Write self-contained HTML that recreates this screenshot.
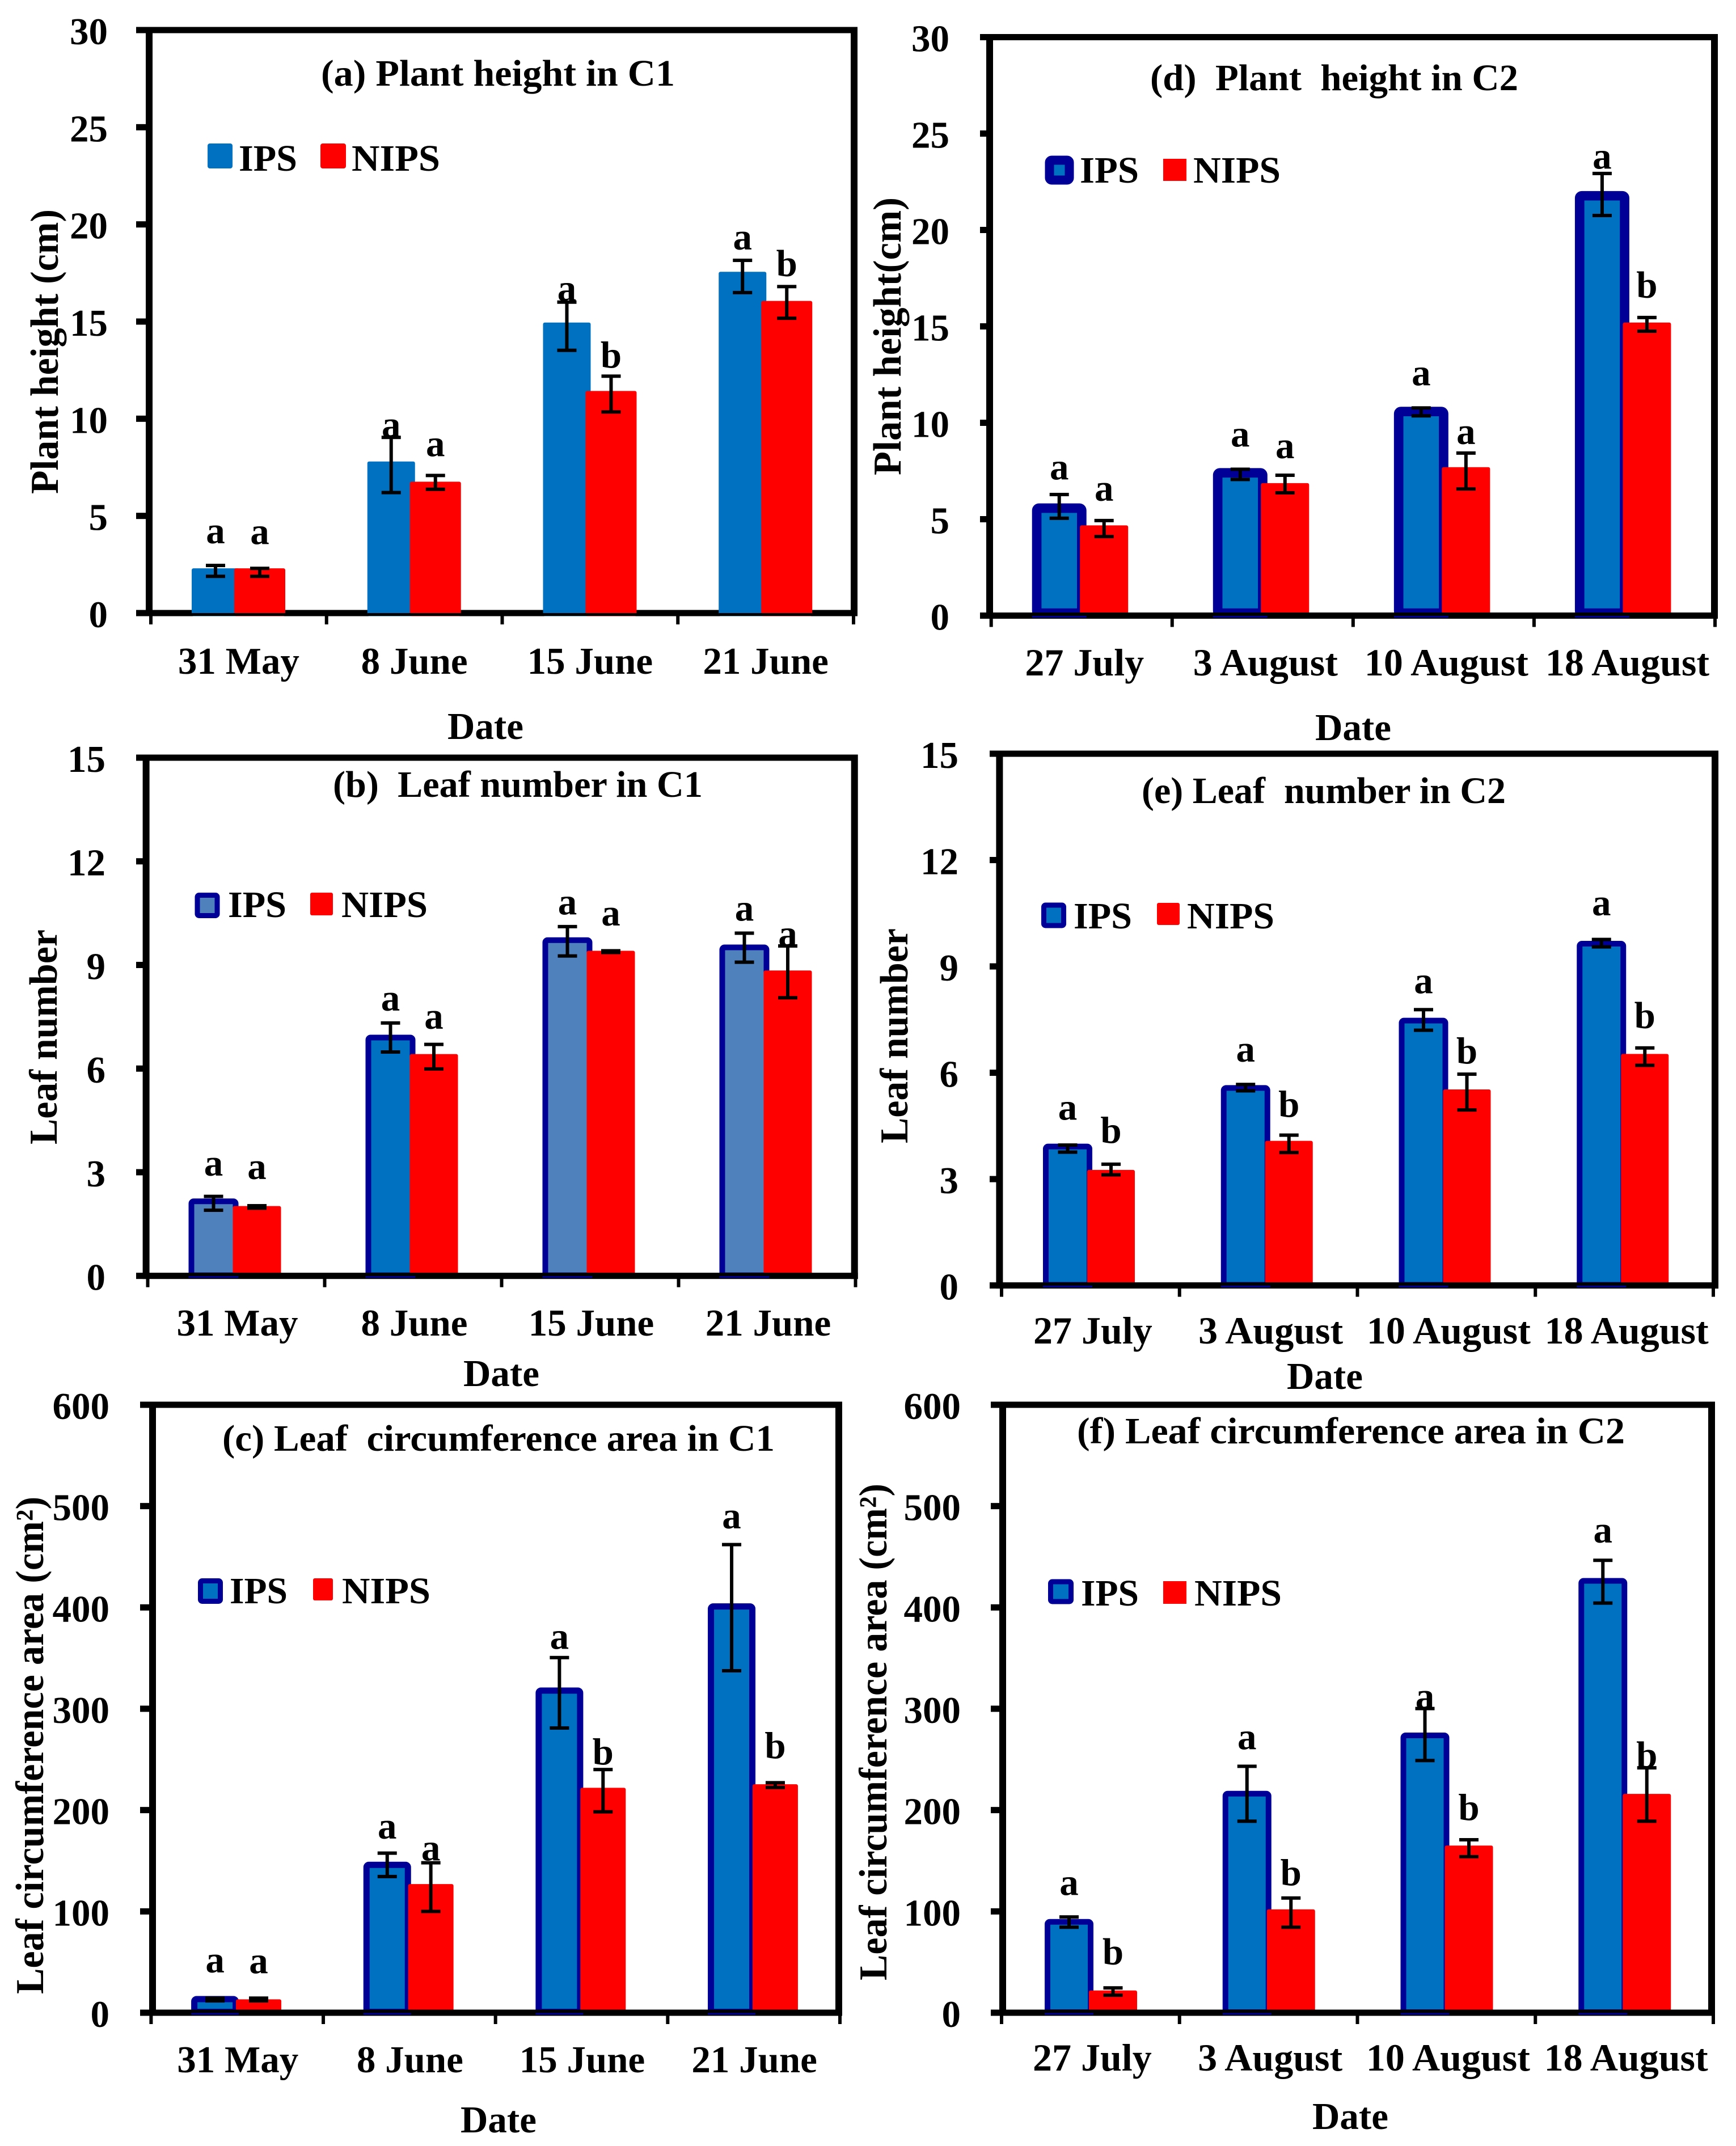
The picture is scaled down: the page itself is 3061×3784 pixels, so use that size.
<!DOCTYPE html>
<html lang="en">
<head>
<meta charset="utf-8">
<title>Plant height, leaf number and leaf circumference area in C1 and C2</title>
<style>
html,body{margin:0;padding:0;background:#fff}
svg{display:block}
text{font-family:"Liberation Serif",serif;font-weight:bold;fill:#000}
.t{font-size:66px}
.lg{font-size:66px}
.yt{font-size:70px}
.dt{font-size:67px}
</style>
</head>
<body>
<svg id="figure" xmlns="http://www.w3.org/2000/svg" width="3061" height="3784" viewBox="0 0 3061 3784">
<rect width="3061" height="3784" fill="#fff"/>

<g id="panel-a"></g>
<g id="panel-b"></g>
<g id="panel-c"></g>
<g id="panel-d"></g>
<g id="panel-e"></g>
<g id="panel-f"></g>

<!-- Titles -->
<text class="t" x="566" y="151" textLength="624" lengthAdjust="spacingAndGlyphs">(a) Plant height in C1</text>
<text class="t" x="587" y="1405" textLength="652" lengthAdjust="spacingAndGlyphs" xml:space="preserve">(b)  Leaf number in C1</text>
<text class="t" x="392" y="2558" textLength="974" lengthAdjust="spacingAndGlyphs" xml:space="preserve">(c) Leaf  circumference area in C1</text>
<text class="t" x="2028" y="159" textLength="649" lengthAdjust="spacingAndGlyphs" xml:space="preserve">(d)  Plant  height in C2</text>
<text class="t" x="2013" y="1416" textLength="642" lengthAdjust="spacingAndGlyphs" xml:space="preserve">(e) Leaf  number in C2</text>
<text class="t" x="1899" y="2545" textLength="966" lengthAdjust="spacingAndGlyphs">(f) Leaf circumference area in C2</text>

<!-- Axis titles -->
<text class="yt" transform="translate(102,871) rotate(-90)" textLength="502" lengthAdjust="spacingAndGlyphs">Plant height (cm)</text>
<text class="yt" transform="translate(100,2018) rotate(-90)" textLength="379" lengthAdjust="spacingAndGlyphs">Leaf number</text>
<text class="yt" transform="translate(76,3516) rotate(-90)" textLength="877" lengthAdjust="spacingAndGlyphs">Leaf circumference area (cm²)</text>
<text class="yt" transform="translate(1588,838) rotate(-90)" textLength="490" lengthAdjust="spacingAndGlyphs">Plant height(cm)</text>
<text class="yt" transform="translate(1600,2016) rotate(-90)" textLength="379" lengthAdjust="spacingAndGlyphs">Leaf number</text>
<text class="yt" transform="translate(1563,3492) rotate(-90)" textLength="876" lengthAdjust="spacingAndGlyphs">Leaf circumference area (cm²)</text>

<text class="dt" x="856" y="1303" text-anchor="middle">Date</text>
<text class="dt" x="884" y="2444" text-anchor="middle">Date</text>
<text class="dt" x="879" y="3760" text-anchor="middle">Date</text>
<text class="dt" x="2386" y="1305" text-anchor="middle">Date</text>
<text class="dt" x="2336" y="2449" text-anchor="middle">Date</text>
<text class="dt" x="2381" y="3754" text-anchor="middle">Date</text>

<!-- Legends -->
<g>
  <rect x="366" y="253" width="44" height="44" rx="4" fill="#0070C0"/>
  <text class="lg" x="421" y="301" textLength="103" lengthAdjust="spacingAndGlyphs">IPS</text>
  <rect x="565" y="253" width="45" height="44" rx="4" fill="#FF0000"/>
  <text class="lg" x="620" y="301" textLength="156" lengthAdjust="spacingAndGlyphs">NIPS</text>
</g>
<g>
  <rect x="348" y="1578.5" width="35" height="36" rx="3" fill="#4F81BD" stroke="#000096" stroke-width="9"/>
  <text class="lg" x="402" y="1617" textLength="103" lengthAdjust="spacingAndGlyphs">IPS</text>
  <rect x="547" y="1574" width="40" height="40" rx="3" fill="#FF0000"/>
  <text class="lg" x="602" y="1617" textLength="152" lengthAdjust="spacingAndGlyphs">NIPS</text>
</g>
<g>
  <rect x="353.5" y="2787.5" width="35" height="36" rx="3" fill="#0070C0" stroke="#000096" stroke-width="9"/>
  <text class="lg" x="405" y="2827" textLength="102" lengthAdjust="spacingAndGlyphs">IPS</text>
  <rect x="552" y="2783" width="35" height="39" rx="3" fill="#FF0000"/>
  <text class="lg" x="603" y="2827" textLength="156" lengthAdjust="spacingAndGlyphs">NIPS</text>
</g>
<g>
  <rect x="1850.5" y="282.5" width="35" height="35" rx="4" fill="#0070C0" stroke="#000096" stroke-width="16"/>
  <text class="lg" x="1904" y="322" textLength="104" lengthAdjust="spacingAndGlyphs">IPS</text>
  <rect x="2051" y="280" width="41" height="39" fill="#FF0000"/>
  <text class="lg" x="2104" y="322" textLength="154" lengthAdjust="spacingAndGlyphs">NIPS</text>
</g>
<g>
  <rect x="1840.5" y="1596" width="35" height="36" rx="3" fill="#0070C0" stroke="#000096" stroke-width="9"/>
  <text class="lg" x="1893" y="1637" textLength="103" lengthAdjust="spacingAndGlyphs">IPS</text>
  <rect x="2040" y="1592" width="40" height="39" rx="3" fill="#FF0000"/>
  <text class="lg" x="2093" y="1637" textLength="154" lengthAdjust="spacingAndGlyphs">NIPS</text>
</g>
<g>
  <rect x="1852.5" y="2789" width="36" height="35" rx="3" fill="#0070C0" stroke="#000096" stroke-width="9"/>
  <text class="lg" x="1906" y="2831" textLength="102" lengthAdjust="spacingAndGlyphs">IPS</text>
  <rect x="2051" y="2788" width="41" height="40" fill="#FF0000"/>
  <text class="lg" x="2106" y="2831" textLength="154" lengthAdjust="spacingAndGlyphs">NIPS</text>
</g>
</svg>

<script>
// ---------- Data ----------
var datesC1 = ['31 May', '8 June', '15 June', '21 June'];
var datesC2 = ['27 July', '3 August', '10 August', '18 August'];
var ticksHeight = [0, 5, 10, 15, 20, 25, 30];
var ticksLeaf = [0, 3, 6, 9, 12, 15];
var ticksArea = [0, 100, 200, 300, 400, 500, 600];

// Panel a: plant height, C1
var aIps = [2.3, 7.8, 14.95, 17.56];
var aNips = [2.3, 6.76, 11.43, 16.06];
var aIpsErrUp = [0.15, 1.24, 1.05, 0.59];
var aIpsErrDown = [0.41, 1.6, 1.43, 1.07];
var aNipsErrUp = [0, 0.32, 0.76, 0.74];
var aNipsErrDown = [0.41, 0.39, 1.08, 0.89];
var aIpsLetters = ['a', 'a', 'a', 'a'];
var aNipsLetters = ['a', 'a', 'b', 'b'];
var aIpsLetterLevels = [3.59, 9.04, 16.07, 18.7];
var aNipsLetterLevels = [3.54, 8.07, 12.62, 17.34];

// Panel b: leaf number, C1
var bIps = [2.24, 6.98, 9.8, 9.59];
var bNips = [2.02, 6.42, 9.41, 8.84];
var bIpsErrUp = [0.06, 0.34, 0.31, 0.33];
var bIpsErrDown = [0.34, 0.5, 0.54, 0.51];
var bNipsErrUp = [0.01, 0.28, 0, 0.71];
var bNipsErrDown = [0.06, 0.43, 0.05, 0.79];
var bIpsLetters = ['a', 'a', 'a', 'a'];
var bNipsLetters = ['a', 'a', 'a', 'a'];
var bIpsLetterLevels = [2.9, 7.68, 10.46, 10.28];
var bNipsLetterLevels = [2.8, 7.15, 10.14, 9.54];

// Panel c: leaf circumference area, C1
var cIps = [16.5, 149, 321, 404];
var cNips = [13.2, 127, 222, 225.5];
var cIpsErrUp = [-2.1, 8.5, 29.5, 58];
var cIpsErrDown = [4.8, 14.6, 40, 66.5];
var cNipsErrUp = [1.2, 21, 18, 1.5];
var cNipsErrDown = [1.5, 27, 23.7, 3.2];
var cIpsLetters = ['a', 'a', 'a', 'a'];
var cNipsLetters = ['a', 'a', 'b', 'b'];
var cIpsLetterLevels = [39.8, 171.9, 359, 478];
var cNipsLetterLevels = [38.9, 150.3, 245, 251];

// Panel d: plant height, C2
var dIps = [5.82, 7.65, 10.83, 22.02];
var dNips = [4.68, 6.87, 7.7, 15.2];
var dIpsErrUp = [0.46, -0.06, -0.06, 0.91];
var dIpsErrDown = [0.77, 0.59, 0.47, 1.27];
var dNipsErrUp = [0.25, 0.41, 0.73, 0.26];
var dNipsErrDown = [0.58, 0.5, 1.13, 0.45];
var dIpsLetters = ['a', 'a', 'a', 'a'];
var dNipsLetters = ['a', 'a', 'a', 'b'];
var dIpsLetterLevels = [7.06, 8.77, 11.94, 23.18];
var dNipsLetterLevels = [5.96, 8.16, 8.89, 16.48];

// Panel e: leaf number, C2
var eIps = [4.0, 5.65, 7.55, 9.72];
var eNips = [3.26, 4.08, 5.53, 6.53];
var eIpsErrUp = [-0.04, 0.02, 0.23, 0.04];
var eIpsErrDown = [0.24, 0.16, 0.35, 0.17];
var eNipsErrUp = [0.16, 0.16, 0.43, 0.17];
var eNipsErrDown = [0.14, 0.33, 0.58, 0.32];
var eIpsLetters = ['a', 'a', 'a', 'a'];
var eNipsLetters = ['b', 'b', 'b', 'b'];
var eIpsLetterLevels = [4.67, 6.31, 8.24, 10.44];
var eNipsLetterLevels = [4.02, 4.75, 6.26, 7.26];

// Panel f: leaf circumference area, C2
var fIps = [92.5, 219, 276.5, 429];
var fNips = [22, 102, 165, 216];
var fIpsErrUp = [2, 24.2, 23.7, 17.5];
var fIpsErrDown = [8.1, 30, 27.6, 24.7];
var fNipsErrUp = [2.5, 11.2, 5.7, 25.7];
var fNipsErrDown = [4.7, 17.6, 11, 27];
var fIpsLetters = ['a', 'a', 'a', 'a'];
var fNipsLetters = ['b', 'b', 'b', 'b'];
var fIpsLetterLevels = [116, 260, 300, 464];
var fNipsLetterLevels = [47.5, 125.7, 190, 241.7];

var panels = [
  { id: 'a', cats: datesC1, ticks: ticksHeight, ips: aIps, nips: aNips, iu: aIpsErrUp, id2: aIpsErrDown, nu: aNipsErrUp, nd: aNipsErrDown, il: aIpsLetters, nl: aNipsLetters, ill: aIpsLetterLevels, nll: aNipsLetterLevels },
  { id: 'b', cats: datesC1, ticks: ticksLeaf, ips: bIps, nips: bNips, iu: bIpsErrUp, id2: bIpsErrDown, nu: bNipsErrUp, nd: bNipsErrDown, il: bIpsLetters, nl: bNipsLetters, ill: bIpsLetterLevels, nll: bNipsLetterLevels },
  { id: 'c', cats: datesC1, ticks: ticksArea, ips: cIps, nips: cNips, iu: cIpsErrUp, id2: cIpsErrDown, nu: cNipsErrUp, nd: cNipsErrDown, il: cIpsLetters, nl: cNipsLetters, ill: cIpsLetterLevels, nll: cNipsLetterLevels },
  { id: 'd', cats: datesC2, ticks: ticksHeight, ips: dIps, nips: dNips, iu: dIpsErrUp, id2: dIpsErrDown, nu: dNipsErrUp, nd: dNipsErrDown, il: dIpsLetters, nl: dNipsLetters, ill: dIpsLetterLevels, nll: dNipsLetterLevels },
  { id: 'e', cats: datesC2, ticks: ticksLeaf, ips: eIps, nips: eNips, iu: eIpsErrUp, id2: eIpsErrDown, nu: eNipsErrUp, nd: eNipsErrDown, il: eIpsLetters, nl: eNipsLetters, ill: eIpsLetterLevels, nll: eNipsLetterLevels },
  { id: 'f', cats: datesC2, ticks: ticksArea, ips: fIps, nips: fNips, iu: fIpsErrUp, id2: fIpsErrDown, nu: fNipsErrUp, nd: fNipsErrDown, il: fIpsLetters, nl: fNipsLetters, ill: fIpsLetterLevels, nll: fNipsLetterLevels }
];

// ---------- Layout (per-panel geometry, kept apart from the data) ----------
var layouts = {
  a: { L: 263, R: 1506, T: 53, B: 1081, tickL: 240, x0: 266, x1: 1505, labelR: 190, catY: 1188, catDx: 0, catSize: 67, iOff: 72, iW: 84, nOff: 147, nW: 90, sw: 0 },
  b: { L: 257.6, R: 1506.7, T: 1336, B: 2249.7, tickL: 240, x0: 260.5, x1: 1508.5, labelR: 186, catY: 2355, catDx: 2, catSize: 67, iOff: 72, iW: 88, nOff: 150, nW: 85, sw: 10 },
  c: { L: 269, R: 1479, T: 2477, B: 3549, tickL: 247, x0: 266.4, x1: 1481, labelR: 193, catY: 3654, catDx: 1, catSize: 67, iOff: 70.7, iW: 84, nOff: 149.6, nW: 80, sw: 11 },
  d: { L: 1745, R: 3023, T: 65.5, B: 1085.5, tickL: 1728, x0: 1747.7, x1: 3024, labelR: 1674, catY: 1191, catDx: 5, catSize: 68, iOff: 72, iW: 96, nOff: 156.5, nW: 85, sw: 16.7 },
  e: { L: 1762.4, R: 3024, T: 1329, B: 2266.6, tickL: 1745, x0: 1766, x1: 3021, labelR: 1690, catY: 2369, catDx: 4, catSize: 68, iOff: 73, iW: 87, nOff: 151, nW: 84, sw: 10 },
  f: { L: 1768, R: 3018, T: 2477, B: 3549, tickL: 1747, x0: 1766, x1: 3021, labelR: 1694, catY: 3651, catDx: 3, catSize: 68, iOff: 76, iW: 86, nOff: 154, nW: 85, sw: 10 }
};
// Panel b draws most IPS bars in a paler blue.
var ipsFillByPanel = {
  a: ['#0070C0', '#0070C0', '#0070C0', '#0070C0'],
  b: ['#4F81BD', '#0070C0', '#4F81BD', '#4F81BD'],
  c: ['#0070C0', '#0070C0', '#0070C0', '#0070C0'],
  d: ['#0070C0', '#0070C0', '#0070C0', '#0070C0'],
  e: ['#0070C0', '#0070C0', '#0070C0', '#0070C0'],
  f: ['#0070C0', '#0070C0', '#0070C0', '#0070C0']
};

var SVGNS = 'http://www.w3.org/2000/svg';
function mk(tag, attrs, parent) {
  var el = document.createElementNS(SVGNS, tag);
  for (var k in attrs) el.setAttribute(k, attrs[k]);
  parent.appendChild(el);
  return el;
}

function drawFrame(g, lay, yScale, ticks, cats) {
  var el;
  var frameW = 12, frameH = 11;
  var bandW = (lay.x1 - lay.x0) / cats.length;
  el = mk('rect', { x: lay.L - frameW / 2, y: lay.T - frameH / 2, width: frameW, height: lay.B - lay.T + frameH, fill: '#000' }, g);
  
  
  el = mk('rect', { x: lay.R - frameW / 2, y: lay.T - frameH / 2, width: frameW, height: lay.B - lay.T + frameH, fill: '#000' }, g);
  
  
  el = mk('rect', { x: lay.L, y: lay.T - frameH / 2, width: lay.R - lay.L, height: frameH, fill: '#000' }, g);
  
  
  el = mk('rect', { x: lay.L, y: lay.B - frameH / 2, width: lay.R - lay.L + frameW / 2, height: frameH, fill: '#000' }, g);
  
  

  ticks.forEach(function (t) {
    var y = yScale(t);
    var mark = mk('rect', { x: lay.tickL, y: y - 5.5, width: lay.L - lay.tickL, height: 11, fill: '#000' }, g);
    
    
    var label = mk('text', { x: lay.labelR, y: y + 25, 'text-anchor': 'end', 'font-size': 67 }, g);
    
    
    label.textContent = String(t);
  });

  for (var i = 0; i <= cats.length; i++) {
    var tick = mk('rect', { x: lay.x0 + bandW * i - 3, y: lay.B, width: 6, height: 20, fill: '#000' }, g);
    
    
  }
  cats.forEach(function (c, i) {
    var label = mk('text', { x: lay.x0 + bandW * (i + 0.5) + lay.catDx, y: lay.catY, 'text-anchor': 'middle', 'font-size': lay.catSize }, g);
    
    
    label.textContent = c;
  });
}

function drawBar(g, name, left, width, top, bottom, fill, stroke, sw) {
  var bar = mk('rect', {
    x: left + sw / 2,
    y: top + sw / 2,
    width: width - sw,
    height: Math.max(0, bottom - top - sw / 2),
    rx: sw ? 4 : 3,
    fill: fill,
    stroke: sw ? stroke : 'none',
    'stroke-width': sw
  }, g);
  
  
}

function drawErr(g, name, cx, yTop, yBottom) {
  var capW = 34, capH = 6, stem = 6;
  var stemEl = mk('rect', { x: cx - stem / 2, y: yTop, width: stem, height: Math.max(0, yBottom - yTop), fill: '#000' }, g);
  
  
  var capTop = mk('rect', { x: cx - capW / 2, y: yTop - capH / 2, width: capW, height: capH, fill: '#000' }, g);
  
  
  var capBottom = mk('rect', { x: cx - capW / 2, y: yBottom - capH / 2, width: capW, height: capH, fill: '#000' }, g);
  
  
}

function drawLetter(g, name, cx, y, ch) {
  var t = mk('text', { x: cx, y: y, 'text-anchor': 'middle', 'font-size': 67 }, g);
  
  
  t.textContent = ch;
}

panels.forEach(function (p) {
  var lay = layouts[p.id];
  var g = document.getElementById('panel-' + p.id);
  var yMax = p.ticks[p.ticks.length - 1];
  var yScale = function (v) { return lay.B - (v / yMax) * (lay.B - lay.T); };
  var bandW = (lay.x1 - lay.x0) / p.cats.length;
  var fills = ipsFillByPanel[p.id];
  var flat = lay.sw === 0;

  if (flat) drawFrame(g, lay, yScale, p.ticks, p.cats);

  // Bars: IPS first, NIPS on top of it
  p.cats.forEach(function (c, i) {
    var left = lay.x0 + bandW * i + lay.iOff;
    var bottom = flat ? lay.B + 5.5 : lay.B + 4 - lay.sw / 2;
    drawBar(g, 'bar-ips-' + c.toLowerCase().replace(' ', '-'), left, lay.iW, yScale(p.ips[i]), bottom, fills[i], '#000096', lay.sw);
  });
  p.cats.forEach(function (c, i) {
    var left = lay.x0 + bandW * i + lay.nOff;
    drawBar(g, 'bar-nips-' + c.toLowerCase().replace(' ', '-'), left, lay.nW, yScale(p.nips[i]), flat ? lay.B + 5.5 : lay.B, '#FF0000', '', 0);
  });

  if (!flat) drawFrame(g, lay, yScale, p.ticks, p.cats);

  // Thin strips that sit on the x axis below each bar
  p.cats.forEach(function (c, i) {
    var strip;
    if (flat) {
      strip = mk('rect', { x: lay.x0 + bandW * i + lay.iOff, y: lay.B, width: lay.nOff + lay.nW - lay.iOff, height: 5, fill: '#000' }, g);
      
      
    } else {
      strip = mk('rect', { x: lay.x0 + bandW * i + lay.iOff, y: lay.B + 0.5, width: lay.iW, height: 3, fill: '#000096' }, g);
      
      
    }
  });

  // Error bars and significance letters
  p.cats.forEach(function (c, i) {
    var ix = lay.x0 + bandW * i + lay.iOff + lay.iW / 2;
    var nx = lay.x0 + bandW * i + lay.nOff + lay.nW / 2;
    drawErr(g, 'error-bar-ips', ix, yScale(p.ips[i] + p.iu[i]), yScale(p.ips[i] - p.id2[i]));
    drawErr(g, 'error-bar-nips', nx, yScale(p.nips[i] + p.nu[i]), yScale(p.nips[i] - p.nd[i]));
    drawLetter(g, 'significance-letter-ips', ix, yScale(p.ill[i]), p.il[i]);
    drawLetter(g, 'significance-letter-nips', nx, yScale(p.nll[i]), p.nl[i]);
  });
});
</script>
</body>
</html>
